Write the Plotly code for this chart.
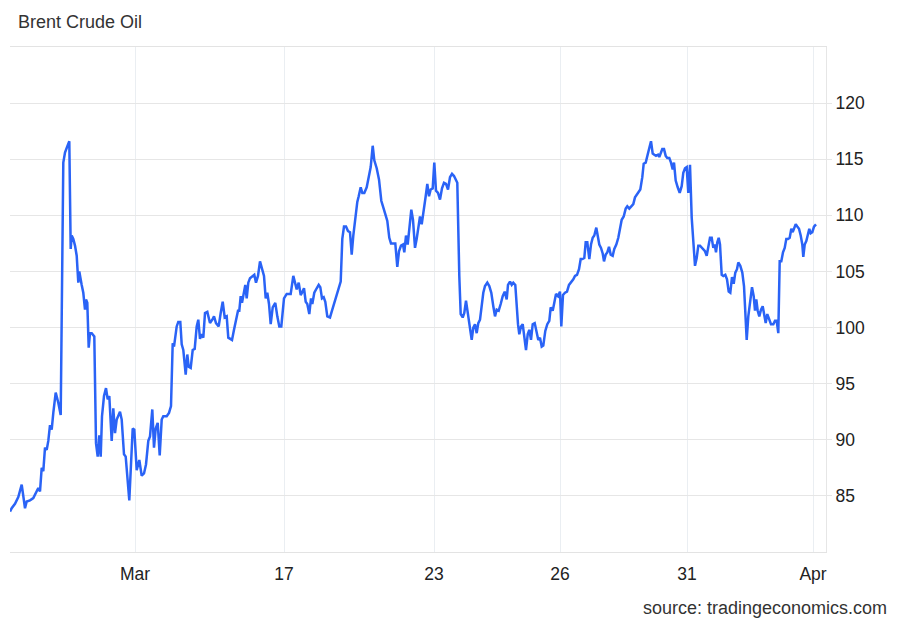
import plotly.graph_objects as go

# sample index (trading-time axis, weekends removed) and Brent price (USD/bbl)
sample = [
    10, 11.7, 15, 18.3, 21.7, 23.3, 25, 26.7, 30, 33.3, 36.7, 38.3, 40, 41.7, 43.3, 45, 46.7, 48.3, 50, 51.7,
    53.3, 55.7, 58.3, 60.7, 63.3, 65, 66.7, 69.3, 70.7, 71.7, 73.3, 75, 76.7, 78.3, 79.3, 80.7, 81.7, 83.3,
    85, 86, 87.3, 88.7, 90, 91.7, 94.3, 96, 97.7, 99.3, 100.7, 102, 104, 106, 107.7, 109.3, 111.7, 113.3,
    115, 116.7, 118.3, 120, 121.7, 124, 125.7, 129.3,
    132.7, 134.3, 136.7, 139.3, 141.7, 144, 146, 148.3, 150, 152.3, 154, 155.7, 157.7, 159.7, 161.7, 163.3,
    166.7, 169, 171, 172.7, 174, 175.3, 176.7, 178.3, 180.3, 181.7, 183.3, 185.7, 187.3, 188.7, 190.7, 192.7,
    194.7, 196.7, 198.3, 200, 201.7, 203.3, 205, 207.3, 210, 212.3, 214, 216, 218.7, 220.7, 222.7, 224.7,
    226.7, 228.3, 230, 232, 234, 236, 238, 239.3, 240.7, 242, 243.7, 245.3, 246.7, 248.3, 250, 252.3, 254.3,
    256, 258, 260, 262.3, 264, 265.7, 267.3, 269, 270.7, 272.7, 275.3, 277.3, 279.3, 281.3,
    284, 286.7, 290.7, 293.3, 295.3, 296.7, 298.7, 300.7, 302, 304, 305.7, 307.3, 309.3, 311, 312.3, 314.3,
    316.7, 318.7, 320.3, 322, 323.7, 325.3, 327.3, 330, 332, 334, 336, 338, 340.7, 342.3, 344, 346, 348, 350,
    351.7, 353.3, 355.3, 357.3, 358.7, 360.7, 362.3, 364.3, 366.7, 368.7, 370.7, 372.7, 374.3, 376.7, 379,
    381.3, 383.3, 385.3, 387.3, 389.3, 391, 393.3, 395.3, 397.3, 399, 401, 403, 404.3, 406, 407.7, 409.3,
    411.3, 413, 415, 416.7, 418.7, 420, 421.7, 423.3, 425.7, 427.3, 429, 430.7, 432.7, 434.3,
    436, 438, 440, 442, 444, 446, 448, 450, 452, 454, 456, 457.3, 459.3, 460.7, 462.7, 464.3, 466, 467.7,
    469.3, 471.7, 473.3, 475, 476.7, 478.3, 480, 481.7, 483.3, 485, 487.3, 489.3, 491.3, 493.3, 495, 496.7,
    498.7, 500.7, 502.7, 504.7, 506.7, 508, 510, 511.7, 513.3, 515.3, 516.7, 518, 519.3, 521, 522.7, 524.3,
    526, 527.7, 529.3, 531, 532.7, 534.7, 536.7, 538.3, 540, 541.7, 543.3, 545.3, 547.3, 549.3, 550.7, 552.7,
    554.3, 556, 558, 560, 561.3, 563,
    565, 567, 569, 571, 573.3, 575, 577, 579, 580.7, 582.3, 584.3, 585.7, 587.3, 589.3, 591, 592.7, 594.3,
    596.3, 597.7, 599.3, 601, 602.7, 604, 605.7, 607.3, 609, 610.7, 612.7, 614.3, 616.3, 618.3, 620.3, 621.7,
    623.7, 625.7, 627.3, 629.3, 631.3, 633.3, 635, 636.7, 638.3, 640.3, 642.3, 643.7, 645.7, 647.7, 649.3,
    651, 652.7, 654.3, 656, 658, 659.3, 661, 662.3, 664, 665.7, 667.3, 669.3, 671, 672.7, 674, 675.7, 677.7,
    679.7,
    681.7, 683.3, 685, 686.7, 688.3, 690, 691.7, 693.3, 695, 696.7, 698.3, 700, 701.7, 703.3, 705, 706.7,
    708.3, 710, 711.7, 713.3, 714.7, 716, 717.3, 718.7, 720, 721.7, 723.3, 725.3, 727, 728.7, 730.3, 732,
    733.7, 735.3, 737, 738.3, 740.3, 742.3, 744, 745.7, 746.7, 748.3, 750, 752, 753.7, 755, 756.3, 757.7,
    759.3, 761, 762.7, 764.3, 765.7, 767.3, 769, 771, 773.3, 775, 776.7, 778.3, 779.7, 781.3, 783, 784.7,
    786.3, 788, 789.7, 791.3, 792.7, 794, 795.7, 797.3, 799, 800.7, 802.3, 803.3, 804.7, 806.3, 808, 809.3,
    810.7, 812.3, 814, 816,
]

price = [
    83.6, 83.9, 84.3, 84.9, 86.0, 84.9, 83.9, 84.5, 84.6, 84.8, 85.4, 85.7, 85.4, 87.5, 87.2, 89.3, 89.1, 89.9, 91.3, 90.9,
    92.4, 94.2, 93.3, 92.2, 114.7, 115.6, 116.0, 116.6, 107.0, 108.2, 107.9, 107.3, 106.4, 104.0, 105.0, 104.0, 103.8, 103.1,
    101.6, 102.5, 102.2, 98.2, 99.5, 99.5, 99.2, 89.7, 88.5, 90.4, 88.5, 92.1, 93.9, 94.6, 93.6, 93.9, 89.9, 92.8,
    90.6, 91.8, 92.1, 92.5, 91.8, 88.7, 88.5, 84.6,
    91.0, 90.9, 87.3, 88.2, 86.8, 87.0, 87.8, 89.9, 90.3, 92.7, 89.3, 91.0, 91.5, 88.6, 91.8, 92.1,
    92.1, 92.4, 93.0, 98.6, 98.3, 99.0, 100.1, 100.5, 100.5, 98.5, 98.0, 95.8, 97.6, 96.5, 96.4, 98.0,
    98.1, 100.1, 100.7, 99.0, 99.4, 99.1, 101.3, 101.4, 100.4, 100.7, 101.0, 100.4, 100.1, 101.3, 102.3, 100.9,
    101.0, 99.1, 99.0, 98.9, 99.8, 100.7, 101.5, 101.5, 102.8, 102.2, 103.1, 103.8, 102.6, 104.0, 104.4, 104.6, 104.7,
    104.0, 104.6, 105.9, 105.0, 104.6, 102.6, 103.1, 102.1, 100.3, 101.8, 102.2, 101.0, 100.1, 100.1,
    102.6, 103.0, 103.0, 104.6, 103.7, 103.4, 104.0, 102.9, 103.1, 103.5, 102.3, 102.1, 101.2, 102.6, 102.1, 103.1,
    103.5, 103.8, 103.6, 102.6, 102.7, 102.3, 101.0, 100.9, 101.5, 102.1, 102.8, 103.5, 104.1, 107.9, 109.0, 109.0, 108.6, 108.5,
    106.5, 108.2, 109.8, 111.2, 111.7, 112.5, 112.0, 112.0, 112.5, 113.5, 114.3, 116.2, 114.9, 114.2, 113.2,
    111.3, 110.8, 110.1, 109.5, 108.0, 107.5, 107.5, 107.5, 105.4, 106.8, 107.3, 107.4, 106.7, 108.2, 107.4, 108.9,
    110.5, 109.6, 107.1, 107.9, 109.0, 109.9, 109.2, 110.1, 111.7, 112.8, 111.7, 112.3, 112.4, 114.7,
    112.2, 112.0, 111.4, 112.4, 112.9, 112.8, 112.3, 113.4, 113.7, 113.5, 113.2, 112.9, 104.6, 101.2, 100.9, 101.3, 102.4, 101.3,
    100.1, 98.9, 100.0, 100.3, 99.5, 100.4, 100.7, 101.8, 103.1, 103.7, 104.0, 103.7, 103.1, 101.9, 101.0, 101.6,
    101.5, 102.1, 102.8, 103.2, 102.5, 103.8, 104.1, 103.8, 104.0, 103.8, 101.9, 100.3, 99.4, 100.1, 100.3, 99.2,
    98.0, 99.4, 99.8, 98.9, 100.3, 100.4, 99.7, 98.9, 99.1, 98.3, 98.4, 99.7, 100.3, 100.6, 101.8, 101.5,
    102.2, 103.0, 102.8, 103.2, 100.1, 102.9,
    103.1, 103.2, 103.8, 104.0, 104.3, 104.6, 104.7, 105.2, 106.1, 106.1, 106.2, 107.6, 107.6, 106.1, 107.4, 108.0, 108.2,
    108.9, 108.2, 107.4, 107.1, 106.6, 105.9, 106.5, 106.7, 107.2, 106.5, 106.4, 107.0, 107.4, 108.0, 108.8, 109.6,
    109.9, 110.6, 110.8, 110.6, 110.8, 111.0, 111.6, 111.8, 112.1, 112.3, 113.4, 114.6, 114.7, 115.3, 116.0,
    116.6, 115.5, 115.4, 115.3, 115.4, 115.2, 115.6, 115.9, 115.9, 115.3, 115.1, 115.1, 114.7, 114.1, 114.7, 113.1, 112.5,
    112.0,
    112.6, 113.8, 114.2, 114.3, 112.0, 114.5, 109.8, 107.9, 105.5, 106.2, 107.3, 107.3, 107.1, 107.0, 106.8, 106.4,
    107.1, 108.0, 108.0, 107.1, 107.4, 106.7, 107.6, 108.0, 107.4, 104.7, 104.6, 104.7, 104.3, 103.2, 103.1, 104.5,
    103.9, 104.9, 105.2, 105.8, 105.5, 104.9, 103.7, 101.3, 98.9, 101.0, 102.5, 103.6, 102.8, 101.5, 102.5, 101.5,
    101.0, 101.6, 101.9, 101.2, 100.4, 101.2, 100.7, 100.3, 100.3, 100.6, 100.6, 99.5, 105.9, 105.9, 106.7, 107.1,
    107.9, 107.9, 108.0, 108.8, 108.5, 108.8, 109.2, 109.0, 108.8, 108.2, 107.4, 106.3, 107.4, 107.7, 108.3, 108.8,
    108.4, 108.5, 109.0, 109.2,
]

tick_positions = [135, 284, 434, 560, 687, 813]
tick_labels = ["Mar", "17", "23", "26", "31", "Apr"]
y_ticks = [85, 90, 95, 100, 105, 110, 115, 120]

title_text = "Brent Crude Oil"
source_text = "source: tradingeconomics.com"

fig = go.Figure()
fig.add_trace(go.Scatter(
    x=sample, y=price, mode="lines",
    line=dict(color="#2a63f6", width=2.5),
    hoverinfo="skip", showlegend=False,
))

font_family = "Liberation Sans, Arial, sans-serif"

fig.update_layout(
    width=900, height=624,
    margin=dict(l=10, r=74, t=47, b=72),
    paper_bgcolor="white", plot_bgcolor="white",
    font=dict(family=font_family, size=17.5, color="#222222"),
    xaxis=dict(
        range=[10, 826], tickmode="array", tickvals=tick_positions, ticktext=tick_labels,
        showgrid=True, gridcolor="#eaeef2", gridwidth=1,
        showline=True, linecolor="#e3e3e3", linewidth=1, mirror=True,
        ticks="outside", ticklen=6, tickcolor="rgba(0,0,0,0)",
        zeroline=False, tickfont=dict(size=17.5, color="#222222"),
    ),
    yaxis=dict(
        range=[80, 125], side="right", tickmode="array", tickvals=y_ticks,
        showgrid=True, gridcolor="#e6e6e6", gridwidth=1,
        showline=True, linecolor="#e6e6e6", linewidth=1,
        ticks="outside", ticklen=5, tickcolor="#e6e6e6",
        zeroline=False, tickfont=dict(size=17.5, color="#222222"),
    ),
    annotations=[
        dict(text=title_text, xref="paper", yref="paper", x=(16 - 10) / 816, y=(552 - 22) / 505,
             xanchor="left", yanchor="middle", showarrow=False,
             font=dict(size=18, color="#333333", family=font_family)),
        dict(text=source_text, xref="paper", yref="paper", x=(889 - 10) / 816, y=(552 - 608) / 505,
             xanchor="right", yanchor="middle", showarrow=False,
             font=dict(size=18, color="#333333", family=font_family)),
    ],
)

fig.write_html("out.html")
